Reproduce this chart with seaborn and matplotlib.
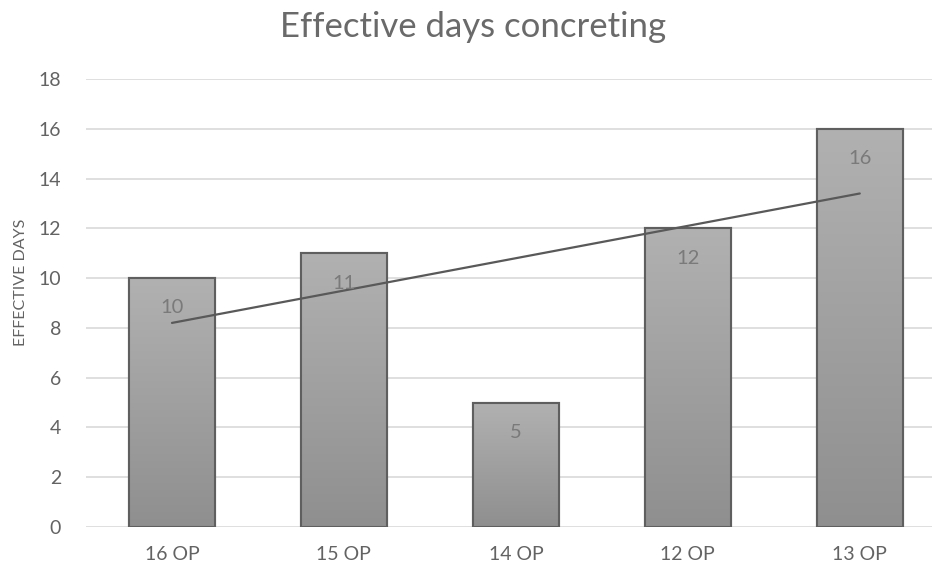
import numpy as np
import pandas as pd
import matplotlib
matplotlib.use("Agg")
import matplotlib.pyplot as plt
import seaborn as sns

# chart data
categories = ["16 OP", "15 OP", "14 OP", "12 OP", "13 OP"]
effective_days = [10, 11, 5, 12, 16]
y_ticks = [0, 2, 4, 6, 8, 10, 12, 14, 16, 18]

df = pd.DataFrame({"op": categories, "days": effective_days})

sns.set_style("white")
plt.rcParams['font.family'] = ['Lato', 'DejaVu Sans']

fig = plt.figure(figsize=(9.32, 5.71), dpi=100)
ax = fig.add_axes([86 / 932, 1 - 527 / 571, 1 - 86 / 932, (527 - 79) / 571])

sns.barplot(data=df, x="op", y="days", color="#a0a0a0", width=0.5,
            edgecolor="#5f5f5f", linewidth=1.5, ax=ax, zorder=2)

# vertical grey gradient inside each bar, lighter at the top
grad = np.linspace(0, 1, 256).reshape(-1, 1)
cmap = matplotlib.colors.LinearSegmentedColormap.from_list("g", ["#8f8f8f", "#b1b1b1"])
for p in ax.patches:
    x0, y0 = p.get_x(), p.get_y()
    w, h = p.get_width(), p.get_height()
    im = ax.imshow(grad, cmap=cmap, aspect="auto", origin="lower",
                   extent=[x0, x0 + w, y0, y0 + h], zorder=2.1)
    im.set_clip_path(p)
    ax.add_patch(plt.Rectangle((x0, y0), w, h, fill=False,
                               edgecolor="#5f5f5f", linewidth=1.5, zorder=2.2))

# data labels just under the bar tops
for i, v in enumerate(effective_days):
    ax.text(i, v - 1.2, f"{v}", ha="center", va="center",
            fontsize=14.5, color="#7a7a7a", zorder=4)

# linear trend line
xs = np.arange(len(effective_days))
slope, intercept = np.polyfit(xs, effective_days, 1)
ax.plot(xs, slope * xs + intercept, color="#595959", linewidth=1.6, zorder=3)

ax.set_xlim(-0.5, 4.42)
ax.set_ylim(0, 18)
ax.set_yticks(y_ticks)
ax.yaxis.grid(True, color="#d9d9d9", linewidth=1.2, zorder=0)
ax.set_axisbelow(True)
for s in ax.spines.values():
    s.set_visible(False)
ax.tick_params(axis="both", length=0, labelsize=14, colors="#636363")
ax.tick_params(axis="y", pad=18)
ax.tick_params(axis="x", pad=14)
ax.set_xlabel("")
ax.set_ylabel("EFFECTIVE DAYS", fontsize=11.5, color="#636363")
ax.yaxis.set_label_coords(-0.068, 0.545)

fig.text(473 / 932, 1 - 27 / 571, "Effective days concreting", ha="center",
         va="center", fontsize=25, color="#6a6a6a")

fig.savefig("out.png", dpi=100)
